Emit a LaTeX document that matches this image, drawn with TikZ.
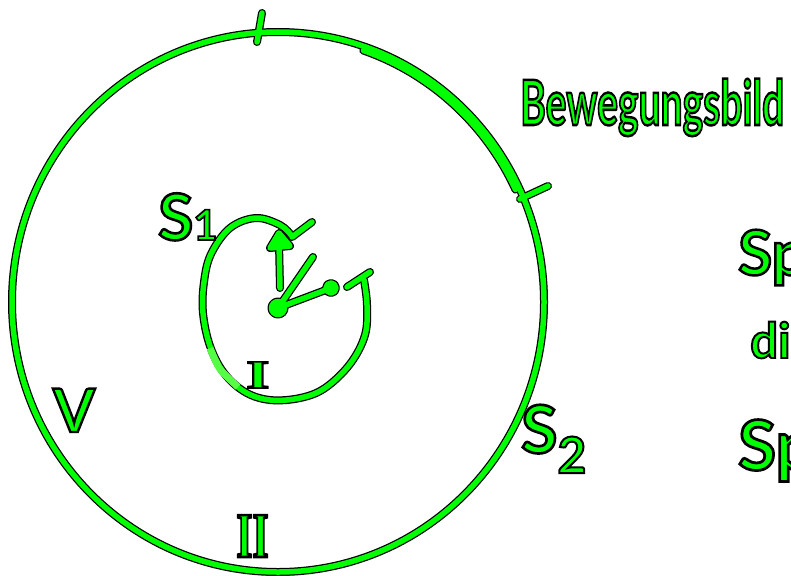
\documentclass[tikz,border=0pt]{standalone}
\usepackage{fontspec}
\setmainfont{Lato}
\newfontfamily\outl[FakeBold=4]{Lato Bold}
\newfontfamily\outlserif[FakeBold=4]{Liberation Serif Bold}
\usetikzlibrary{calc}
\definecolor{pen}{HTML}{00FF00}
\definecolor{penlight}{HTML}{55FF44}
\tikzset{
  blackink/.style={draw=black,line width=8pt,line cap=round,line join=round},
  greenink/.style={draw=pen,line width=5.5pt,line cap=round,line join=round},
  ink/.style={blackink},
  inkfill/.style={ink,fill=black},
  txt/.style={inner sep=0pt,text=pen,font=\outl},
}
\newcommand\outlined[1]{\special{pdf:bc [0 1 0] [0 0 0]}#1\special{pdf:ec}}
\newcommand\sketchpaths{%
  % outer circle
  \draw[ink] (c) ellipse [x radius=266pt, y radius=270pt];
  \draw[ink] ($(c)+(71:262pt and 266pt)$) arc [start angle=71, end angle=25, x radius=262pt, y radius=266pt];
  \draw[ink] (tickTa) -- (tickTb);
  \draw[ink] (tickRa) -- (tickRb);
  % spiral
  \draw[ink] plot[smooth,tension=0.6] coordinates {(291,235) (280,225) (256,218) (230,228) (211,254) (204,282) (203,313) (210,346) (224,373) (245,392) (270,400) (300,398) (325,388) (350,364) (365,335) (367,305) (364,280)};
  \draw[ink] (hookA) -- (hookB);
  \draw[ink] (capA) -- (capB);
  % hands
  \draw[ink] (upbase) -- (uptip);
  \path[inkfill] (270,248) -- (279,233) -- (290,246) -- cycle;
  \draw[ink] (hub) -- (diag);
  \draw[ink] (hub) -- (rtip);
  \path[inkfill] (rtip) circle[radius=5pt];
  \path[inkfill] (hub) circle[radius=6.5pt];
}
\begin{document}
\begin{tikzpicture}[x=1pt,y=-1pt]
\useasboundingbox (0,0) rectangle (791,575);
\clip (0,0) rectangle (791,575);
\fill[white] (0,0) rectangle (791,575);
\coordinate (c) at (278,302);
\coordinate (tickTa) at (262,13);
\coordinate (tickTb) at (257,42);
\coordinate (tickRa) at (520,199);
\coordinate (tickRb) at (548,186);
\coordinate (hookA) at (292,237);
\coordinate (hookB) at (312,222);
\coordinate (capA) at (347,287);
\coordinate (capB) at (370,272);
\coordinate (hub) at (278,308);
\coordinate (upbase) at (280,288);
\coordinate (uptip) at (279,243);
\coordinate (diag) at (313,257);
\coordinate (rtip) at (331,288);
% two passes: outline, then fill
\sketchpaths
\tikzset{ink/.style={greenink}, inkfill/.style={ink,fill=pen}}
\sketchpaths
\draw[penlight,line width=7pt,line cap=butt] plot[smooth] coordinates {(210,348) (220,369) (238,387)};
% texts
\node[txt,anchor=base west] (title) at (520,125) {\scalebox{1}[1.6]{\fontsize{39}{39}\selectfont\outlined{Bewegungsbild}}};
\node[txt,anchor=base west] (sone) at (158,240) {\fontsize{64}{64}\selectfont\outlined{S}{\fontsize{42}{42}\selectfont\outlined{1}}};
\node[txt,anchor=base west] (stwo) at (521,453) {\fontsize{66}{66}\selectfont\outlined{S}{\fontsize{50}{50}\selectfont\raisebox{-20pt}{\outlined{2}}}};
\node[txt,anchor=base west] (vlab) at (53,432) {\fontsize{60}{60}\selectfont\outlined{V}};
\node[txt,anchor=base west] (ilab) at (246,388) {\outlserif\fontsize{40}{40}\selectfont\scalebox{1.5}[1]{\outlined{I}}};
\node[txt,anchor=base west] (iilab) at (236,557) {\outlserif\fontsize{64}{64}\selectfont\scalebox{0.65}[1]{\outlined{II}}};
\node[txt,anchor=base west] (rone) at (738,275) {\fontsize{62}{62}\selectfont\outlined{Sp}};
\node[txt,anchor=base west] (rtwo) at (750,358) {\fontsize{49}{49}\selectfont\outlined{di}};
\node[txt,anchor=base west] (rthree) at (738,470) {\fontsize{69}{69}\selectfont\outlined{Sp}};
\end{tikzpicture}
\end{document}
